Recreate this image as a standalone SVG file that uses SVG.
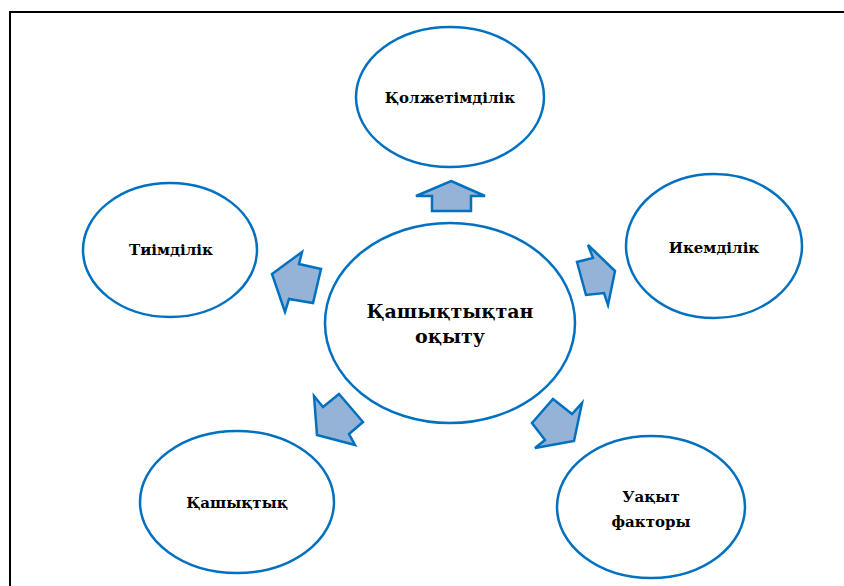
<svg xmlns="http://www.w3.org/2000/svg" width="844" height="586" viewBox="0 0 844 586">
<style>
.node{fill:#fff;stroke:#0070c0;stroke-width:2.5}
.lbl{font-family:"DejaVu Serif","Liberation Serif",serif;font-weight:bold;font-size:15px;fill:#000;text-anchor:middle}
.big{font-size:19px}
.arr{fill:#95b3d7;stroke:#0070c0;stroke-width:2.5;stroke-linejoin:miter}
</style>
<rect width="844" height="586" fill="#fff"/>
<path d="M10 586 V12 H844" fill="none" stroke="#000" stroke-width="2"/>
<g id="center">
<ellipse class="node" cx="450" cy="323" rx="125" ry="100"/>
<text class="lbl big" x="450" y="318">Қашықтықтан</text>
<text class="lbl big" x="450" y="343">оқыту</text>
</g>
<g id="n-top">
<ellipse class="node" cx="450" cy="97" rx="94" ry="70"/>
<text class="lbl" x="450" y="103">Қолжетімділік</text>
</g>
<g id="n-left">
<ellipse class="node" cx="170" cy="250" rx="87" ry="67"/>
<text class="lbl" x="171" y="255">Тиімділік</text>
</g>
<g id="n-right">
<ellipse class="node" cx="714" cy="246" rx="88" ry="72"/>
<text class="lbl" x="714" y="253">Икемділік</text>
</g>
<g id="n-bl">
<ellipse class="node" cx="237" cy="502" rx="97" ry="71"/>
<text class="lbl" x="237" y="508">Қашықтық</text>
</g>
<g id="n-br">
<ellipse class="node" cx="651" cy="507" rx="94" ry="71"/>
<text class="lbl" x="651" y="502">Уақыт</text>
<text class="lbl" x="651" y="527">факторы</text>
</g>
<g id="connectors">
<polygon class="arr" points="451,181 485,196 471,196 471,211 432,211 432,196 416,196"/>
<polygon class="arr" points="272,274 302,252 299,264 321,269 313,303 289,299 285,312"/>
<polygon class="arr" points="588,245 593,258 577,262 586,295 604,293 608,305 615,271"/>
<polygon class="arr" points="314,396 323,407 339,394 363,422 349,434 355,445 317,435"/>
<polygon class="arr" points="532,423 553,399 572,414 582,403 574,441 535,448 545,440"/>
</g>
</svg>
